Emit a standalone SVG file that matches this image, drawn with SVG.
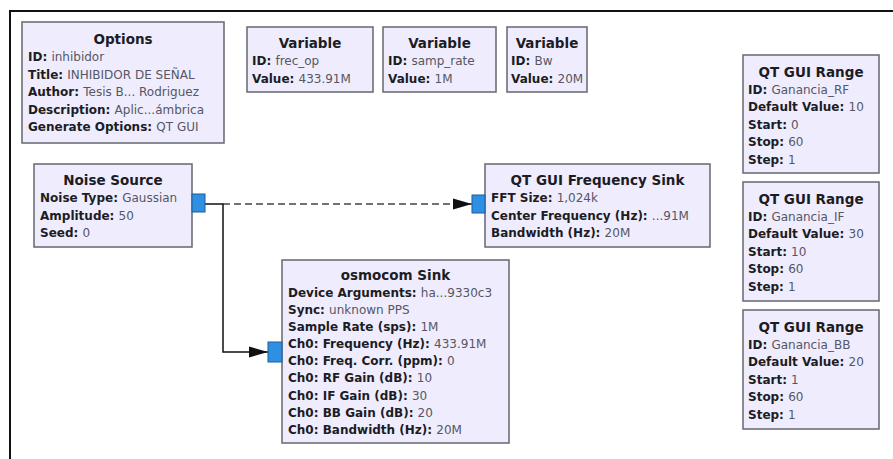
<svg xmlns="http://www.w3.org/2000/svg" width="893" height="459" viewBox="0 0 893 459">
  <style>
    .blk { fill: #efedfd; stroke: #6f6f78; stroke-width: 1.6; }
    .port { fill: #2f8fe3; stroke: #1d5d9c; stroke-width: 1; }
    text { font-family: "DejaVu Sans", Verdana, sans-serif; font-size: 12px; fill: #1c1c24; }
    .ttl { font-size: 13.5px; font-weight: bold; text-anchor: middle; }
    .k { font-weight: bold; }
    .v { font-weight: normal; fill: #565664; }
    .wire { fill: none; stroke: #111; stroke-width: 1.5; }
    .dash { fill: none; stroke: #444; stroke-width: 1.5; stroke-dasharray: 7 4; }
  </style>
  <defs>
    <marker id="arrow" markerUnits="userSpaceOnUse" markerWidth="20" markerHeight="14" refX="19" refY="7" orient="auto">
      <path d="M0,1.5 L19,7 L0,12.5 Z" fill="#111"/>
    </marker>
  </defs>

  <rect width="893" height="459" fill="#ffffff"/>
  <path d="M10,459 V11 H893" fill="none" stroke="#111" stroke-width="2"/>

  <g id="connectors">
    <path class="dash" d="M223,204 H472" marker-end="url(#arrow)"/>
    <path class="wire" d="M205,204 H223 V352 H268" marker-end="url(#arrow)"/>
  </g>

  <g id="options">
    <rect class="blk" x="22" y="22" width="202" height="121"/>
    <text class="ttl" x="123" y="44">Options</text>
    <text x="28" y="61"><tspan class="k">ID: </tspan><tspan class="v">inhibidor</tspan></text>
    <text x="28" y="78.5"><tspan class="k">Title: </tspan><tspan class="v">INHIBIDOR DE SEÑAL</tspan></text>
    <text x="28" y="96"><tspan class="k">Author: </tspan><tspan class="v">Tesis B... Rodriguez</tspan></text>
    <text x="28" y="113.5"><tspan class="k">Description: </tspan><tspan class="v">Aplic...ámbrica</tspan></text>
    <text x="28" y="131"><tspan class="k">Generate Options: </tspan><tspan class="v">QT GUI</tspan></text>
  </g>

  <g id="var_frec_op">
    <rect class="blk" x="247" y="27" width="126" height="65"/>
    <text class="ttl" x="310" y="48">Variable</text>
    <text x="252" y="65"><tspan class="k">ID: </tspan><tspan class="v">frec_op</tspan></text>
    <text x="252" y="82.5"><tspan class="k">Value: </tspan><tspan class="v">433.91M</tspan></text>
  </g>

  <g id="var_samp_rate">
    <rect class="blk" x="383" y="27" width="113" height="65"/>
    <text class="ttl" x="439.5" y="48">Variable</text>
    <text x="388" y="65"><tspan class="k">ID: </tspan><tspan class="v">samp_rate</tspan></text>
    <text x="388" y="82.5"><tspan class="k">Value: </tspan><tspan class="v">1M</tspan></text>
  </g>

  <g id="var_bw">
    <rect class="blk" x="507" y="27" width="80" height="65"/>
    <text class="ttl" x="547" y="48">Variable</text>
    <text x="511" y="65"><tspan class="k">ID: </tspan><tspan class="v">Bw</tspan></text>
    <text x="511" y="82.5"><tspan class="k">Value: </tspan><tspan class="v">20M</tspan></text>
  </g>

  <g id="range_rf">
    <rect class="blk" x="743" y="55" width="136" height="118"/>
    <text class="ttl" x="811" y="77">QT GUI Range</text>
    <text x="748" y="93.5"><tspan class="k">ID: </tspan><tspan class="v">Ganancia_RF</tspan></text>
    <text x="748" y="111"><tspan class="k">Default Value: </tspan><tspan class="v">10</tspan></text>
    <text x="748" y="128.5"><tspan class="k">Start: </tspan><tspan class="v">0</tspan></text>
    <text x="748" y="146"><tspan class="k">Stop: </tspan><tspan class="v">60</tspan></text>
    <text x="748" y="163.5"><tspan class="k">Step: </tspan><tspan class="v">1</tspan></text>
  </g>

  <g id="range_if">
    <rect class="blk" x="743" y="182" width="136" height="119"/>
    <text class="ttl" x="811" y="204">QT GUI Range</text>
    <text x="748" y="220.5"><tspan class="k">ID: </tspan><tspan class="v">Ganancia_IF</tspan></text>
    <text x="748" y="238"><tspan class="k">Default Value: </tspan><tspan class="v">30</tspan></text>
    <text x="748" y="255.5"><tspan class="k">Start: </tspan><tspan class="v">10</tspan></text>
    <text x="748" y="273"><tspan class="k">Stop: </tspan><tspan class="v">60</tspan></text>
    <text x="748" y="290.5"><tspan class="k">Step: </tspan><tspan class="v">1</tspan></text>
  </g>

  <g id="range_bb">
    <rect class="blk" x="743" y="310" width="136" height="119"/>
    <text class="ttl" x="811" y="332">QT GUI Range</text>
    <text x="748" y="348.5"><tspan class="k">ID: </tspan><tspan class="v">Ganancia_BB</tspan></text>
    <text x="748" y="366"><tspan class="k">Default Value: </tspan><tspan class="v">20</tspan></text>
    <text x="748" y="383.5"><tspan class="k">Start: </tspan><tspan class="v">1</tspan></text>
    <text x="748" y="401"><tspan class="k">Stop: </tspan><tspan class="v">60</tspan></text>
    <text x="748" y="418.5"><tspan class="k">Step: </tspan><tspan class="v">1</tspan></text>
  </g>

  <g id="noise_source">
    <rect class="blk" x="34" y="164" width="158" height="83"/>
    <text class="ttl" x="113" y="185">Noise Source</text>
    <text x="40" y="202"><tspan class="k">Noise Type: </tspan><tspan class="v">Gaussian</tspan></text>
    <text x="40" y="219.5"><tspan class="k">Amplitude: </tspan><tspan class="v">50</tspan></text>
    <text x="40" y="237"><tspan class="k">Seed: </tspan><tspan class="v">0</tspan></text>
    <rect class="port" x="192" y="194" width="13" height="18"/>
  </g>

  <g id="freq_sink">
    <rect class="blk" x="485" y="164" width="225" height="83"/>
    <text class="ttl" x="597.5" y="185">QT GUI Frequency Sink</text>
    <text x="491" y="202"><tspan class="k">FFT Size: </tspan><tspan class="v">1,024k</tspan></text>
    <text x="491" y="219.5"><tspan class="k">Center Frequency (Hz): </tspan><tspan class="v">...91M</tspan></text>
    <text x="491" y="237"><tspan class="k">Bandwidth (Hz): </tspan><tspan class="v">20M</tspan></text>
    <rect class="port" x="472" y="195" width="13" height="18"/>
  </g>

  <g id="osmocom_sink">
    <rect class="blk" x="282" y="260" width="227" height="183"/>
    <text class="ttl" x="395.5" y="280">osmocom Sink</text>
    <text x="288" y="296.5"><tspan class="k">Device Arguments: </tspan><tspan class="v">ha...9330c3</tspan></text>
    <text x="288" y="313.5"><tspan class="k">Sync: </tspan><tspan class="v">unknown PPS</tspan></text>
    <text x="288" y="330.5"><tspan class="k">Sample Rate (sps): </tspan><tspan class="v">1M</tspan></text>
    <text x="288" y="348"><tspan class="k">Ch0: Frequency (Hz): </tspan><tspan class="v">433.91M</tspan></text>
    <text x="288" y="365"><tspan class="k">Ch0: Freq. Corr. (ppm): </tspan><tspan class="v">0</tspan></text>
    <text x="288" y="382"><tspan class="k">Ch0: RF Gain (dB): </tspan><tspan class="v">10</tspan></text>
    <text x="288" y="399.5"><tspan class="k">Ch0: IF Gain (dB): </tspan><tspan class="v">30</tspan></text>
    <text x="288" y="416.5"><tspan class="k">Ch0: BB Gain (dB): </tspan><tspan class="v">20</tspan></text>
    <text x="288" y="434"><tspan class="k">Ch0: Bandwidth (Hz): </tspan><tspan class="v">20M</tspan></text>
    <rect class="port" x="268" y="342" width="14" height="20"/>
  </g>
</svg>
